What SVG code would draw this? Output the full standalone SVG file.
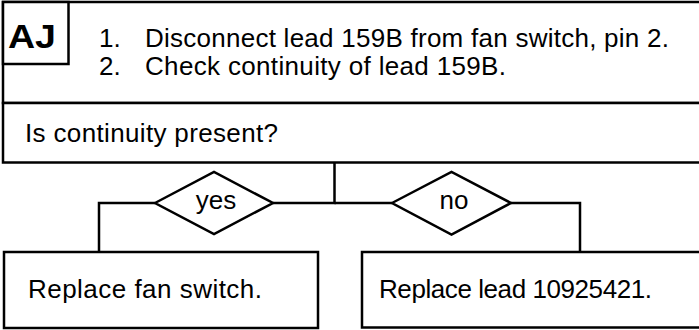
<svg xmlns="http://www.w3.org/2000/svg" width="699" height="330" viewBox="0 0 699 330">
<style>
.box{fill:#fff;stroke:#000;stroke-width:2.5}
.ln{fill:none;stroke:#000;stroke-width:2.5}
text{font-family:"Liberation Sans",Arial,sans-serif;font-size:26px;fill:#000}
.big{font-weight:bold;font-size:34px}
</style>
<rect width="699" height="330" fill="#fff"/>
<g id="steps">
<rect class="box" x="3" y="2" width="710" height="101"/>
<text x="99" y="47">1.</text>
<text x="145" y="47" textLength="524" lengthAdjust="spacing">Disconnect lead 159B from fan switch, pin 2.</text>
<text x="99" y="75">2.</text>
<text x="145" y="75" textLength="361" lengthAdjust="spacing">Check continuity of lead 159B.</text>
</g>
<g id="label">
<rect class="box" x="3" y="2" width="65.5" height="62"/>
<text class="big" x="8" y="48" textLength="48" lengthAdjust="spacingAndGlyphs">AJ</text>
</g>
<g id="question">
<rect class="box" x="3" y="103" width="710" height="59.5"/>
<text x="25" y="142" textLength="253" lengthAdjust="spacing">Is continuity present?</text>
</g>
<g id="connectors">
<path class="ln" d="M334.5 162.5V203H273M155 203H99V252"/>
<path class="ln" d="M334.5 203H392M511 203H580V252"/>
</g>
<g id="yes">
<polygon class="box" points="155,203 214,172 273,203 214,234"/>
<text x="216" y="209" text-anchor="middle">yes</text>
</g>
<g id="no">
<polygon class="box" points="392,203 451.5,172 511,203 451.5,234.5"/>
<text x="454" y="209" text-anchor="middle">no</text>
</g>
<g id="replace-switch">
<rect class="box" x="4" y="252" width="314" height="76"/>
<text x="28" y="298" textLength="234" lengthAdjust="spacing">Replace fan switch.</text>
</g>
<g id="replace-lead">
<rect class="box" x="362" y="252" width="350" height="75.5"/>
<text x="379" y="298" textLength="273" lengthAdjust="spacing">Replace lead 10925421.</text>
</g>
</svg>
